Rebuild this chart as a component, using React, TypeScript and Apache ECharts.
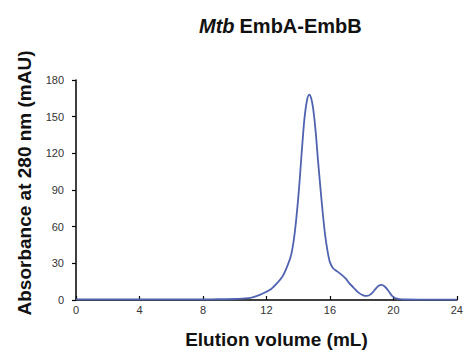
import React, { useEffect, useRef } from "react";
import * as echarts from "echarts";

const elutionVolume = [0, 2, 4, 6, 8, 9, 10, 10.5, 11, 11.5, 12, 12.3, 12.7, 13.0, 13.23, 13.54, 13.7, 13.81, 13.9, 14.0, 14.1, 14.2, 14.3, 14.4, 14.55, 14.69, 14.82, 14.95, 15.1, 15.25, 15.4, 15.55, 15.7, 15.85, 16.0, 16.2, 16.4, 16.6, 16.8, 17.0, 17.2, 17.5, 17.8, 18.1, 18.33, 18.6, 18.85, 19.05, 19.25, 19.45, 19.69, 19.9, 20.1, 20.4, 20.8, 21.5, 22, 23, 24];
const absorbance = [0.5, 0.5, 0.5, 0.5, 0.5, 0.6, 0.8, 1.2, 1.8, 3.8, 6.8, 9, 14.2, 19, 25, 36, 47, 58, 69, 83, 99, 117, 134, 149, 163, 168, 165, 156, 138, 114, 92, 71, 53, 40, 31, 26, 24, 22, 20, 17.5, 14, 10, 6, 3.8, 3.3, 5, 8.7, 11.5, 12.3, 11, 7.4, 3.5, 1.5, 0.7, 0.4, 0.3, 0.3, 0.3, 0.3];
const xTicks = [0, 4, 8, 12, 16, 20, 24];
const yTicks = [0, 30, 60, 90, 120, 150, 180];

export default function App() {
  const ref = useRef<HTMLDivElement>(null);
  useEffect(() => {
    if (!ref.current) return;
    const chart = echarts.init(ref.current, null, { renderer: "svg" });
    const font = "'Liberation Sans', Arial, sans-serif";
    chart.setOption({
      animation: false,
      backgroundColor: "#ffffff",
      textStyle: { fontFamily: font },
      title: {
        text: "{i|Mtb} {b|EmbA-EmbB}",
        left: 194,
        top: 11,
        textStyle: {
          rich: {
            i: { fontStyle: "italic", fontWeight: "bold", fontSize: 20, color: "#111", fontFamily: font },
            b: { fontWeight: "bold", fontSize: 20, color: "#111", fontFamily: font },
          },
        },
      },
      grid: { left: 76, right: 7, top: 80, bottom: 58 },
      xAxis: {
        type: "value",
        min: xTicks[0],
        max: xTicks[xTicks.length - 1],
        interval: 4,
        name: "Elution volume (mL)",
        nameLocation: "middle",
        nameGap: 30,
        nameTextStyle: { fontSize: 19, fontWeight: "bold", color: "#111", padding: [0, 0, 0, 20] },
        axisLine: { lineStyle: { color: "#000", width: 1.5 } },
        axisTick: { inside: true, length: 4, lineStyle: { color: "#000", width: 1.2 } },
        axisLabel: { fontSize: 11, color: "#333", margin: 4 },
        splitLine: { show: false },
      },
      yAxis: {
        type: "value",
        min: yTicks[0],
        max: yTicks[yTicks.length - 1],
        interval: 30,
        name: "Absorbance at 280 nm (mAU)",
        nameLocation: "middle",
        nameGap: 42,
        nameTextStyle: { fontSize: 19, fontWeight: "bold", color: "#111", padding: [0, 0, 0, 14] },
        axisLine: { show: true, lineStyle: { color: "#000", width: 1.5 } },
        axisTick: { show: true, inside: false, length: 4, lineStyle: { color: "#000", width: 1.2 } },
        axisLabel: { fontSize: 11, color: "#333", margin: 12 },
        splitLine: { show: false },
      },
      series: [
        {
          type: "line",
          data: elutionVolume.map((x, i) => [x, absorbance[i]]),
          smooth: 0.3,
          showSymbol: false,
          lineStyle: { color: "#4f63b0", width: 1.8 },
        },
      ],
    });
    return () => chart.dispose();
  }, []);
  return <div ref={ref} style={{ width: 466, height: 358, position: "absolute", left: 0, top: 0 }} />;
}
